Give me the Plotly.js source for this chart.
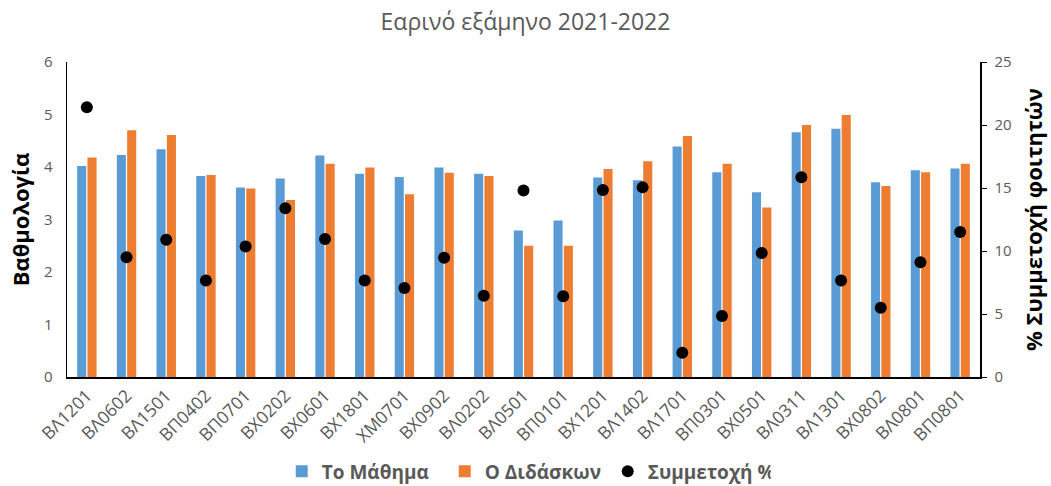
<!DOCTYPE html>
<html>
<head>
<meta charset="utf-8">
<script src="https://cdn.plot.ly/plotly-3.0.1.min.js"></script>
<style>html,body{margin:0;padding:0;background:#fff;}#chart{width:1051px;height:486px;}</style>
</head>
<body>
<div id="chart"></div>
<script>
const categories = ["ΒΛ1201","ΒΛ0602","ΒΛ1501","ΒΠ0402","ΒΠ0701","ΒΧ0202","ΒΧ0601","ΒΧ1801","ΧΜ0701","ΒΧ0902","ΒΛ0202","ΒΛ0501","ΒΠ0101","ΒΧ1201","ΒΛ1402","ΒΛ1701","ΒΠ0301","ΒΧ0501","ΒΛ0311","ΒΛ1301","ΒΧ0802","ΒΛ0801","ΒΠ0801"];
const courseScores = [4.02,4.23,4.34,3.83,3.61,3.78,4.22,3.87,3.81,3.99,3.87,2.79,2.98,3.80,3.75,4.39,3.90,3.52,4.66,4.73,3.71,3.94,3.97];
const instructorScores = [4.18,4.70,4.61,3.85,3.59,3.37,4.06,3.99,3.48,3.89,3.83,2.50,2.50,3.96,4.11,4.59,4.06,3.23,4.80,4.99,3.64,3.90,4.06];
const participation = [21.4,9.5,10.9,7.65,10.35,13.4,10.95,7.65,7.06,9.47,6.45,14.8,6.4,14.85,15.05,1.93,4.84,9.85,15.85,7.65,5.5,9.1,11.5];
const seriesNames = ["Το Μάθημα","Ο Διδάσκων","Συμμετοχή %"];
const chartTitle = "Εαρινό εξάμηνο 2021-2022";
const yTitle = "Βαθμολογία";
const y2Title = "% Συμμετοχή φοιτητών";

const font = "Open Sans, Liberation Sans, sans-serif";
const gray = "#595959";

const data = [
  {type:"bar", name:seriesNames[0], x:categories, y:courseScores, marker:{color:"#5B9BD5"}, yaxis:"y"},
  {type:"bar", name:seriesNames[1], x:categories, y:instructorScores, marker:{color:"#ED7D31"}, yaxis:"y"},
  {type:"scatter", mode:"markers", name:seriesNames[2], x:categories, y:participation, yaxis:"y2",
   marker:{color:"#000000", size:12}}
];

const layout = {
  width:1051, height:486,
  margin:{l:67, r:71, t:62, b:109, autoexpand:false},
  paper_bgcolor:"#fff", plot_bgcolor:"#fff",
  font:{family:font, color:gray},
  title:{text:chartTitle, font:{family:font, size:23, color:gray}, x:0.5, xanchor:"center", y:0.955, yanchor:"middle"},
  barmode:"group", bargap:0.48, bargroupgap:0.12,
  showlegend:true,
  legend:{orientation:"h", x:0.503, xanchor:"center", y:-0.3, yanchor:"middle",
          font:{family:font, size:19, color:gray, weight:"bold"}, itemwidth:30, traceorder:"normal",
          entrywidth:118, entrywidthmode:"pixels"},
  xaxis:{type:"category", range:[-0.5, categories.length-0.5], automargin:false,
         showline:true, linecolor:"#000", linewidth:1.5, showgrid:false, ticks:"",
         tickangle:-45, tickfont:{family:font, size:17.5, color:gray}, zeroline:false},
  yaxis:{range:[0,6], dtick:1, automargin:false, showline:true, linecolor:"#000", linewidth:1.5, showgrid:false, ticks:"",
         tickfont:{family:font, size:15, color:gray}, zeroline:false, ticklabelstandoff:10,
         title:{text:yTitle, font:{family:font, size:22, color:"#000", weight:"bold"}, standoff:8}},
  yaxis2:{range:[0,25], dtick:5, overlaying:"y", side:"right", automargin:false, showline:true, linecolor:"#000", linewidth:1.5,
          showgrid:false, ticks:"outside", ticklen:5, tickcolor:"#000", ticklabelstandoff:5,
          tickfont:{family:font, size:15, color:gray}, zeroline:false,
          title:{text:y2Title, font:{family:font, size:22, color:"#000", weight:"bold"}, standoff:16}}
};

Plotly.newPlot("chart", data, layout, {displayModeBar:false, staticPlot:true});
</script>
</body>
</html>
